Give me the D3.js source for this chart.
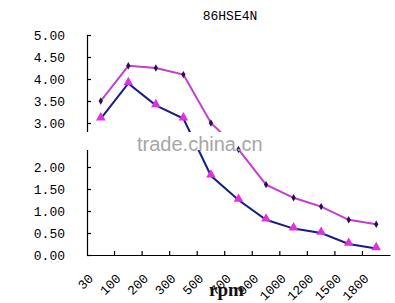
<!DOCTYPE html>
<html>
<head>
<meta charset="utf-8">
<script src="https://cdn.jsdelivr.net/npm/d3@7/dist/d3.min.js"></script>
<style>
  html, body { margin: 0; padding: 0; background: #fff; }
  svg { display: block; }
</style>
</head>
<body>
<svg id="chart" width="395" height="303"></svg>
<script>
const title = "86HSE4N";
const xTitle = "rpm";
const categories = ["30", "100", "200", "300", "500", "700", "900", "1000", "1200", "1500", "1800"];
const seriesUpper = [3.5, 4.3, 4.25, 4.1, 3.0, 2.4, 1.6, 1.3, 1.1, 0.8, 0.7];
const seriesLower = [3.1, 3.9, 3.4, 3.1, 1.8, 1.25, 0.8, 0.6, 0.5, 0.25, 0.15];
const yTicks = [0, 0.5, 1, 1.5, 2, 2.5, 3, 3.5, 4, 4.5, 5];
const watermark = "trade.china.cn";

const svg = d3.select("#chart");
const plotLeft = 87, plotRight = 390, plotTop = 35, plotBottom = 255;

const x = d3.scaleBand().domain(categories).range([plotLeft, plotRight]).padding(0);
const y = d3.scaleLinear().domain([0, 5]).range([plotBottom, plotTop]);
const cx = d => x(d) + x.bandwidth() / 2;

const monoFont = "'Liberation Mono', 'DejaVu Sans Mono', monospace";

// Title
svg.append("text")
  .attr("x", 230).attr("y", 20)
  .attr("text-anchor", "middle")
  .attr("font-family", monoFont)
  .attr("font-size", 13)
  .attr("fill", "#000")
  .text(title);

// Y axis
const yAxis = d3.axisLeft(y)
  .tickValues(yTicks)
  .tickFormat(d3.format(".2f"))
  .tickSizeInner(-4)
  .tickSizeOuter(0)
  .tickPadding(22);
const gy = svg.append("g").attr("transform", `translate(${plotLeft},0)`).call(yAxis);
gy.selectAll("text").attr("font-family", monoFont).attr("font-size", 13).attr("fill", "#000");
gy.selectAll("path, line").attr("stroke", "#000").attr("stroke-width", 1.2);

// X axis (labels)
const xAxis = d3.axisBottom(x).tickSize(0).tickSizeOuter(0);
const gx = svg.append("g").attr("transform", `translate(0,${plotBottom})`).call(xAxis);
gx.select(".domain").attr("stroke", "#000").attr("stroke-width", 1.2);
gx.selectAll(".tick text")
  .attr("font-family", monoFont)
  .attr("font-size", 13)
  .attr("fill", "#000")
  .attr("text-anchor", "end")
  .attr("y", 0).attr("dy", "0.35em")
  .attr("transform", "translate(-10,21) rotate(-45)");

// X axis tick marks at category boundaries
const boundaries = categories.slice(1);
svg.append("g").selectAll("line")
  .data(boundaries)
  .join("line")
  .attr("x1", d => x(d)).attr("x2", d => x(d))
  .attr("y1", plotBottom).attr("y2", plotBottom - 4)
  .attr("stroke", "#000").attr("stroke-width", 1.2);

// Lines
const line = d3.line()
  .x((d, i) => cx(categories[i]))
  .y(d => y(d));

const gLines = svg.append("g");
gLines.append("path").datum(seriesUpper)
  .attr("d", line).attr("fill", "none")
  .attr("stroke", "#c63ccc").attr("stroke-width", 2);
gLines.append("path").datum(seriesLower)
  .attr("d", line).attr("fill", "none")
  .attr("stroke", "#1a1a8c").attr("stroke-width", 2);

// Watermark band (drawn over lines, under markers)
svg.append("rect")
  .attr("x", 0).attr("y", 132).attr("width", 265).attr("height", 18)
  .attr("fill", "#fff");

// Markers
svg.append("g").selectAll("path")
  .data(seriesUpper)
  .join("path")
  .attr("d", d3.symbol(d3.symbolDiamond, 16))
  .attr("transform", (d, i) => `translate(${cx(categories[i])},${y(d)})`)
  .attr("fill", "#2a1050");
svg.append("g").selectAll("path")
  .data(seriesLower)
  .join("path")
  .attr("d", d3.symbol(d3.symbolTriangle, 40))
  .attr("transform", (d, i) => `translate(${cx(categories[i])},${y(d) - 1})`)
  .attr("fill", "#e030e0");

// Axis title
svg.append("text")
  .attr("x", 209).attr("y", 296)
  .attr("font-family", "'Liberation Serif', 'DejaVu Serif', serif")
  .attr("font-weight", "bold")
  .attr("font-size", 19)
  .attr("fill", "#111")
  .text(xTitle);

// Watermark text
svg.append("text")
  .attr("x", 137).attr("y", 151)
  .attr("font-family", "'Liberation Sans', Arial, sans-serif")
  .attr("font-size", 20)
  .attr("fill", "#a6a6a6")
  .text(watermark);
</script>
</body>
</html>
